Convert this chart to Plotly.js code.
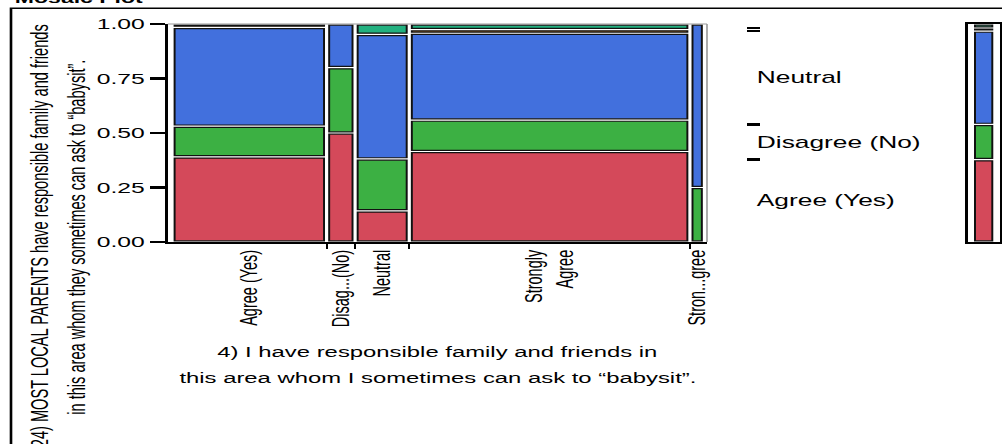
<!DOCTYPE html>
<html><head><meta charset="utf-8">
<script src="https://cdn.plot.ly/plotly-3.0.1.min.js"></script>
<style>
html,body{margin:0;padding:0;background:#fff;overflow:hidden;width:1002px;height:444px;}
#chart{width:609px;height:444px;transform:scaleX(1.6453);transform-origin:0 0;}
</style></head><body><div id="chart"></div>
<script>
// ---- data ----
const columnCategories = ['Agree (Yes)', 'Disagree (No)', 'Neutral', 'Strongly Agree', 'Strongly Disagree'];
const columnTickLabels = ['Agree (Yes)', 'Disag...(No)', 'Neutral', 'Strongly<br>Agree', 'Stron...gree'];
const responseLevels = ['Agree (Yes)', 'Disagree (No)', 'Neutral', 'Strongly Agree', 'Strongly Disagree'];
const responseLabelsShown = ['Agree (Yes)', 'Disagree (No)', 'Neutral', '', ''];
// counts of each response level within each column category
const countsAgreeYes        = [25, 5, 3, 49, 0];
const countsDisagreeNo      = [9, 3, 5, 17, 1];
const countsNeutral         = [29, 2, 12, 47, 3];
const countsStronglyAgree   = [1, 0, 0, 2, 0];
const countsStronglyDisagree= [0, 0, 1, 3, 0];
const yTickVals = [0, 0.25, 0.5, 0.75, 1];
const yTickText = ['0.00', '0.25', '0.50', '0.75', '1.00'];
const yTitleLines = ['24) MOST LOCAL PARENTS have responsible family and friends', 'in this area whom they sometimes can ask to \u201cbabysit\u201d.'];
const xTitleLines = ['4) I have responsible family and friends in', 'this area whom I sometimes can ask to \u201cbabysit\u201d.'];
const chartTitle = 'Mosaic Plot';

// ---- styling ----
const levelColors = ['#D4495A', '#3CB043', '#4270DD', '#D88A2E', '#22B07F'];
const FONT = 'Liberation Sans, Arial, sans-serif';
const W = 609, H = 444, ML = 102, MR = 0, MT = 24, MB = 202;
const plotW = W - ML - MR, plotH = H - MT - MB;
const S = 1002 / W;
const refX = rx => (rx / S - ML) / plotW;
const refY = ry => (H - MB - ry) / plotH;
const padL = 2.9, G = 2.2, padR = 2.2, vGap = 0.011;

const levelCounts = [countsAgreeYes, countsDisagreeNo, countsNeutral, countsStronglyAgree, countsStronglyDisagree];
const nCols = columnCategories.length;
const colTotals = columnCategories.map((_, i) => levelCounts.reduce((s, a) => s + a[i], 0));
const lefts = []; let pos = padL;
for (let i = 0; i < nCols; i++) { lefts.push(pos); pos += colTotals[i] + (i < nCols - 1 ? G : 0); }
const xMax = pos + padR;
const centers = lefts.map((l, i) => l + colTotals[i] / 2);
const boundaries = lefts.slice(1).map(l => l - G / 2);

const traces = [];
const cum = new Array(nCols).fill(0);
levelCounts.forEach((arr, k) => {
  const base = [], y = [];
  arr.forEach((c, i) => {
    const start = cum[i] / colTotals[i], h = c / colTotals[i];
    base.push(start + vGap / 2); y.push(c > 0 ? h - vGap : null);
    cum[i] += c;
  });
  traces.push({type: 'bar', x: centers, y: y, base: base, width: colTotals, xaxis: 'x', yaxis: 'y',
    marker: {color: levelColors[k], line: {color: '#111', width: 1.2}}, name: responseLevels[k],
    showlegend: false, hoverinfo: 'skip'});
});
// marginal bar
const grand = colTotals.reduce((a, b) => a + b, 0);
const marg = levelCounts.map(a => a.reduce((s, v) => s + v, 0));
let mc = 0; const margBounds = []; const margMids = [];
marg.forEach((m, k) => {
  const start = mc / grand, h = m / grand;
  traces.push({type: 'bar', x: [0], y: [h - vGap], base: [start + vGap / 2], width: [1], xaxis: 'x4', yaxis: 'y4',
    marker: {color: levelColors[k], line: {color: '#111', width: 1.2}}, showlegend: false, hoverinfo: 'skip'});
  margMids.push(start + h / 2);
  mc += m;
  if (k < marg.length - 1) margBounds.push(mc / grand);
});
const shownIdx = responseLabelsShown.map((t, i) => t ? i : -1).filter(i => i >= 0);
// invisible helper traces so the overlaying axes (column boundary ticks, level labels) are drawn
[['x2', 'y'], ['x', 'y2'], ['x', 'y3']].forEach(([xa, ya]) => {
  traces.push({type: 'scatter', mode: 'markers', x: [centers[0]], y: [yTickVals[0]], xaxis: xa, yaxis: ya,
    marker: {opacity: 0, size: 1}, showlegend: false, hoverinfo: 'skip', cliponaxis: true});
});

const layout = {
  width: W, height: H, margin: {l: ML, r: MR, t: MT, b: MB, pad: 0},
  paper_bgcolor: '#fff', plot_bgcolor: '#fff', barmode: 'overlay', showlegend: false,
  font: {family: FONT, color: '#000'},
  xaxis: {domain: [0, refX(707)], range: [0, xMax], anchor: 'y', showline: true, linecolor: '#000', linewidth: 2,
    tickmode: 'array', tickvals: centers, ticktext: columnTickLabels, ticks: '', tickangle: -90,
    tickfont: {family: FONT, size: 14.5, color: '#000'}, showgrid: false, zeroline: false},
  xaxis2: {overlaying: 'x', anchor: 'y', range: [0, xMax], side: 'bottom', tickmode: 'array', tickvals: boundaries,
    ticks: 'outside', ticklen: 6, tickwidth: 1.2, tickcolor: '#000', showticklabels: false, showline: false,
    showgrid: false, zeroline: false},
  yaxis: {domain: [0, 1], range: [0, 1], anchor: 'x', showline: true, linecolor: '#000', linewidth: 2,
    tickmode: 'array', tickvals: yTickVals, ticktext: yTickText, ticks: 'outside', ticklen: 9, tickwidth: 2.5,
    tickcolor: '#000', tickfont: {family: FONT, size: 15, color: '#000'}, showgrid: false, zeroline: false},
  yaxis2: {overlaying: 'y', anchor: 'free', position: refX(745), side: 'right', range: [0, 1], tickmode: 'array',
    tickvals: margBounds, ticks: 'outside', ticklen: 8, tickwidth: 2.3, tickcolor: '#000', showticklabels: false,
    showline: false, showgrid: false, zeroline: false},
  yaxis3: {overlaying: 'y', anchor: 'free', position: refX(745), side: 'right', range: [0, 1], tickmode: 'array',
    tickvals: shownIdx.map(i => margMids[i]), ticktext: shownIdx.map(i => responseLabelsShown[i]),
    ticks: 'outside', ticklen: 3, tickcolor: 'rgba(0,0,0,0)', tickfont: {family: FONT, size: 16, color: '#000'},
    showline: false, showgrid: false, zeroline: false},
  xaxis4: {domain: [refX(967.7), refX(1000)], range: [-0.9216, 0.944], anchor: 'y4', showline: true, mirror: true,
    linecolor: '#000', linewidth: 1.8, ticks: '', showticklabels: false, showgrid: false, zeroline: false},
  yaxis4: {domain: [0, 1], range: [0, 1], anchor: 'x4', showline: true, mirror: true, linecolor: '#000',
    linewidth: 1.8, ticks: '', showticklabels: false, showgrid: false, zeroline: false},
  shapes: [
    {type: 'line', xref: 'x domain', yref: 'y domain', x0: 0, x1: 1, y0: 1, y1: 1, line: {color: '#9a9a9a', width: 1}},
    {type: 'line', xref: 'x domain', yref: 'y domain', x0: 1, x1: 1, y0: 0, y1: 1, line: {color: '#9a9a9a', width: 1}},
    {type: 'rect', xref: 'paper', yref: 'paper', x0: refX(11), x1: 1.3, y0: -1.5, y1: refY(8.3),
      line: {color: '#000', width: 1.6}, fillcolor: 'rgba(0,0,0,0)'}
  ],
  annotations: [
    {text: chartTitle, xref: 'paper', yref: 'paper', x: refX(12), y: refY(7.5), xanchor: 'left', yanchor: 'bottom',
      showarrow: false, font: {family: FONT, size: 14, color: '#000', weight: 'bold'}},
    {text: yTitleLines[0], xref: 'paper', yref: 'paper', x: refX(40), y: refY(236), xanchor: 'center', yanchor: 'middle',
      textangle: -90, showarrow: false, font: {family: FONT, size: 14.6, color: '#000'}},
    {text: yTitleLines[1], xref: 'paper', yref: 'paper', x: refX(77), y: refY(237), xanchor: 'center', yanchor: 'middle',
      textangle: -90, showarrow: false, font: {family: FONT, size: 14.6, color: '#000'}},
    {text: xTitleLines[0], xref: 'paper', yref: 'paper', x: refX(437), y: refY(351.5), xanchor: 'center', yanchor: 'middle',
      showarrow: false, font: {family: FONT, size: 14.5, color: '#000'}},
    {text: xTitleLines[1], xref: 'paper', yref: 'paper', x: refX(437), y: refY(377.5), xanchor: 'center', yanchor: 'middle',
      showarrow: false, font: {family: FONT, size: 14.5, color: '#000'}}
  ]
};
Plotly.newPlot('chart', traces, layout, {staticPlot: true, displayModeBar: false});
</script></body></html>
